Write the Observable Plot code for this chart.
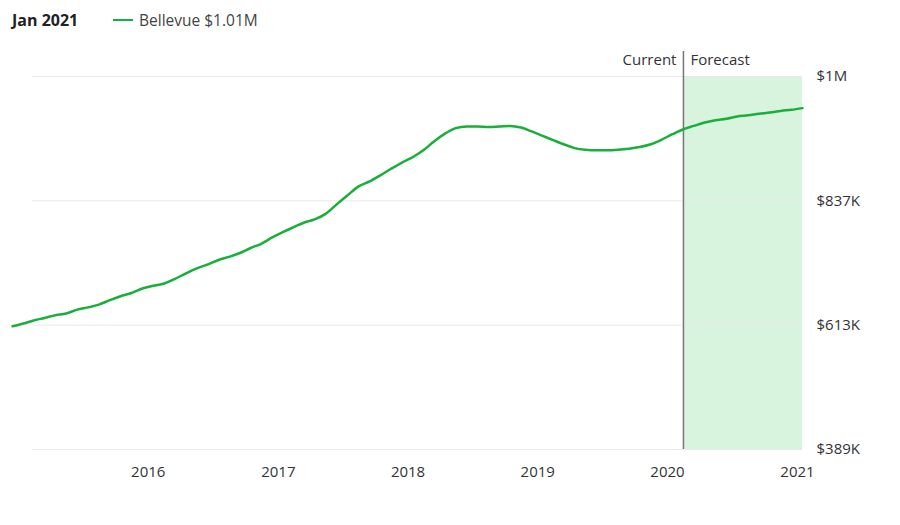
<!DOCTYPE html>
<html>
<head>
<meta charset="utf-8">
<script src="https://cdn.jsdelivr.net/npm/d3@7"></script>
<script src="https://cdn.jsdelivr.net/npm/@observablehq/plot@0.6"></script>
<style>
  html, body { margin: 0; padding: 0; background: #fff; }
  body { width: 900px; height: 525px; overflow: hidden; font-family: "Open Sans", sans-serif; }
  #header { height: 40px; position: relative; font-size: 15.5px; color: #333; line-height: 20px; }
  #header .date { position: absolute; left: 12px; top: 10px; font-weight: bold; color: #222; font-size: 16px; }
  #header .swatch { position: absolute; left: 113px; top: 19px; width: 20px; height: 2px; background: #1aae3a; }
  #header .label { position: absolute; left: 139px; top: 10px; color: #444; }
</style>
</head>
<body>
<div id="header"><span class="date">Jan 2021</span><span class="swatch"></span><span class="label">Bellevue $1.01M</span></div>
<div id="chart"></div>
<script>
// Monthly values (thousands of dollars), Dec 2014 .. Jan 2021
const startMonth = "2014-12";
const values = [
  611, 616, 622, 626, 631, 634, 641, 645, 650, 658, 665, 671,
  679, 684, 688, 696, 706, 715, 722, 730, 736, 743, 752, 760,
  771, 781, 790, 798, 804, 814, 831, 847, 863, 872, 883, 895,
  906, 916, 929, 944, 958, 968, 971, 971, 970, 971, 972, 969,
  962, 954, 946, 939, 932, 929, 928, 928, 929, 931, 934, 939,
  947, 957, 966, 972, 978, 982, 985, 989, 991, 994, 996, 999,
  1001, 1004
];
const forecastStart = "2020-02";
const yTicks = [389, 613, 837, 1061];
const yTickLabels = ["$389K", "$613K", "$837K", "$1M"];
const xTickYears = [2016, 2017, 2018, 2019, 2020, 2021];

const parseMonth = s => { const [y, m] = s.split("-").map(Number); return new Date(Date.UTC(y, m - 1, 15)); };
const start = parseMonth(startMonth);
const data = values.map((v, i) => ({
  date: new Date(Date.UTC(start.getUTCFullYear(), start.getUTCMonth() + i, 15)),
  value: v
}));
const fDate = parseMonth(forecastStart);
const lastDate = data[data.length - 1].date;
const xTicks = xTickYears.map(y => new Date(Date.UTC(y, 0, 1)));
const green = "#1aae3a";

const chart = Plot.plot({
  width: 900,
  height: 485,
  marginTop: 36,
  marginBottom: 76,
  marginLeft: 12,
  marginRight: 98,
  style: { fontFamily: "Open Sans, sans-serif", fontSize: "15px", color: "#333", background: "#fff" },
  x: { type: "utc", domain: [data[0].date, lastDate], ticks: xTicks, tickFormat: d => String(d.getUTCFullYear()), tickSize: 0, tickPadding: 17, label: null },
  y: { domain: [yTicks[0], yTicks[yTicks.length - 1]], ticks: yTicks, tickFormat: (d, i) => yTickLabels[i], tickSize: 0, tickPadding: 14, label: null, axis: "right" },
  marks: [
    Plot.rect([{ x1: fDate, x2: lastDate }], { x1: "x1", x2: "x2", fill: "#d8f4de" }),
    Plot.ruleY(yTicks, { stroke: "#e9e9e9", strokeWidth: 1, insetLeft: 20 }),
    Plot.ruleX([fDate], { stroke: "#777", strokeWidth: 1.5, insetTop: -25 }),
    Plot.text(["Current"], { x: () => fDate, frameAnchor: "top", textAnchor: "end", dx: -7, dy: -22, fill: "#333", fontSize: 15 }),
    Plot.text(["Forecast"], { x: () => fDate, frameAnchor: "top", textAnchor: "start", dx: 7, dy: -22, fill: "#333", fontSize: 15 }),
    Plot.line(data, { x: "date", y: "value", stroke: green, strokeWidth: 2.5, curve: "monotone-x" })
  ]
});
document.getElementById("chart").appendChild(chart);
</script>
</body>
</html>
